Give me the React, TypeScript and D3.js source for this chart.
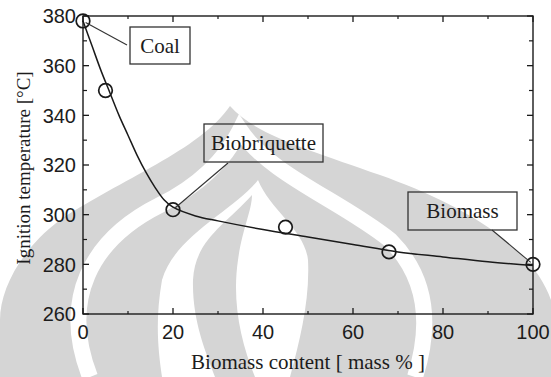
import React from "react";
import * as d3 from "d3";

const sampleX = [0, 5, 20, 45, 68, 100];
const sampleY = [378, 350, 302, 295, 285, 280];

const fitX = [0, 2, 4, 6, 8, 10, 12, 14, 16, 18, 20, 25, 30, 40, 50, 60, 70, 80, 90, 100];
const fitY = [378, 368, 358, 349, 340, 332, 324, 317, 311, 306, 303, 299.5, 297.5, 294, 291, 288, 285, 283, 281, 279.5];

const xMajor = [0, 20, 40, 60, 80, 100];
const xMinor = [10, 30, 50, 70, 90];
const yMajor = [260, 280, 300, 320, 340, 360, 380];
const yMinor = [270, 290, 310, 330, 350, 370];

const calloutLabels = ["Coal", "Biobriquette", "Biomass"];
const calloutPointIndex = [0, 2, 5];

const W = 551;
const H = 377;

export default function App() {
  const x = d3.scaleLinear().domain([0, 100]).range([83, 533]);
  const y = d3.scaleLinear().domain([260, 380]).range([314, 16]);
  const line = d3
    .line<number>()
    .x((_, i) => x(fitX[i]))
    .y((d) => y(d))
    .curve(d3.curveCatmullRom.alpha(0.5));

  const boxes = [
    { x0: 130, y0: 27, x1: 190, y1: 64, lx: 127, ly: 45 },
    { x0: 204, y0: 124, x1: 323, y1: 162, lx: 228, ly: 163 },
    { x0: 408, y0: 192, x1: 517, y1: 230, lx: 492, ly: 230 },
  ];

  const gray = "#d5d5d5";
  const ink = "#1a1a1a";

  return (
    <svg width={W} height={H} style={{ position: "absolute", left: 0, top: 0, background: "#fff" }}>
      {/* watermark */}
      <g>
        <path
          d="M230,106 C200,150 120,180 60,220 C20,250 0,290 0,320 L0,377 L551,377 L551,300 C530,240 450,200 380,175 C310,150 255,135 230,106 Z"
          fill={gray}
        />
        <path
          d="M90,377 C60,300 90,240 160,205 C200,185 225,160 240,130 C270,175 340,200 390,240 C430,280 430,330 415,377"
          fill="none"
          stroke="#fff"
          strokeWidth={16}
        />
        <path
          d="M258,180 C235,210 175,235 162,280 C155,320 158,350 162,377 L290,377 C300,340 310,300 308,260 C305,230 270,210 258,180 Z"
          fill="#fff"
        />
        <path
          d="M252,195 C225,225 195,240 193,280 C192,320 205,350 215,377 L255,377 C240,340 232,300 238,260 C242,230 252,210 252,195 Z"
          fill={gray}
        />
      </g>

      {/* frame */}
      <rect x={83} y={16} width={450} height={298} fill="none" stroke={ink} strokeWidth={1.4} />

      {/* ticks */}
      {xMajor.map((v) => (
        <g key={"xm" + v}>
          <line x1={x(v)} x2={x(v)} y1={314} y2={308} stroke={ink} strokeWidth={1.3} />
          <line x1={x(v)} x2={x(v)} y1={16} y2={22} stroke={ink} strokeWidth={1.3} />
          <text
            x={x(v)}
            y={339}
            textAnchor="middle"
            fontFamily="Liberation Sans, Arial, sans-serif"
            fontSize={20}
            fill="#1c1c1c"
          >
            {v}
          </text>
        </g>
      ))}
      {xMinor.map((v) => (
        <g key={"xn" + v}>
          <line x1={x(v)} x2={x(v)} y1={314} y2={311} stroke={ink} strokeWidth={1.2} />
          <line x1={x(v)} x2={x(v)} y1={16} y2={19} stroke={ink} strokeWidth={1.2} />
        </g>
      ))}
      {yMajor.map((v) => (
        <g key={"ym" + v}>
          <line x1={83} x2={89} y1={y(v)} y2={y(v)} stroke={ink} strokeWidth={1.3} />
          <line x1={533} x2={527} y1={y(v)} y2={y(v)} stroke={ink} strokeWidth={1.3} />
          <text
            x={76}
            y={y(v)}
            dy="0.36em"
            textAnchor="end"
            fontFamily="Liberation Sans, Arial, sans-serif"
            fontSize={20}
            fill="#1c1c1c"
          >
            {v}
          </text>
        </g>
      ))}
      {yMinor.map((v) => (
        <g key={"yn" + v}>
          <line x1={83} x2={87} y1={y(v)} y2={y(v)} stroke={ink} strokeWidth={1.2} />
          <line x1={533} x2={529} y1={y(v)} y2={y(v)} stroke={ink} strokeWidth={1.2} />
        </g>
      ))}

      {/* fitted curve */}
      <path d={line(fitY) || ""} fill="none" stroke={ink} strokeWidth={1.5} />

      {/* points */}
      {sampleX.map((v, i) => (
        <circle key={"p" + i} cx={x(v)} cy={y(sampleY[i])} r={6.8} fill="none" stroke={ink} strokeWidth={1.7} />
      ))}

      {/* callouts */}
      {calloutLabels.map((lab, i) => {
        const b = boxes[i];
        const pi = calloutPointIndex[i];
        const px = x(sampleX[pi]);
        const py = y(sampleY[pi]);
        const dx = b.lx - px;
        const dy = b.ly - py;
        const len = Math.hypot(dx, dy);
        const ex = px + (dx / len) * 3;
        const ey = py + (dy / len) * 3;
        return (
          <g key={lab}>
            <line x1={b.lx} y1={b.ly} x2={ex} y2={ey} stroke="#333" strokeWidth={1.1} />
            <rect x={b.x0} y={b.y0} width={b.x1 - b.x0} height={b.y1 - b.y0} fill="none" stroke="#333" strokeWidth={1.3} />
            <text
              x={(b.x0 + b.x1) / 2}
              y={(b.y0 + b.y1) / 2}
              dy="0.35em"
              textAnchor="middle"
              fontFamily="Liberation Serif, Times New Roman, serif"
              fontSize={21}
              fill="#1c1c1c"
            >
              {lab}
            </text>
          </g>
        );
      })}

      {/* axis titles */}
      <text
        x={308}
        y={369}
        textAnchor="middle"
        fontFamily="Liberation Serif, Times New Roman, serif"
        fontSize={21}
        fill="#1c1c1c"
      >
        Biomass content [ mass % ]
      </text>
      <text
        transform="translate(30,168) rotate(-90)"
        textAnchor="middle"
        fontFamily="Liberation Serif, Times New Roman, serif"
        fontSize={19}
        fill="#1c1c1c"
      >
        Ignition temperature  [°C]
      </text>
    </svg>
  );
}
